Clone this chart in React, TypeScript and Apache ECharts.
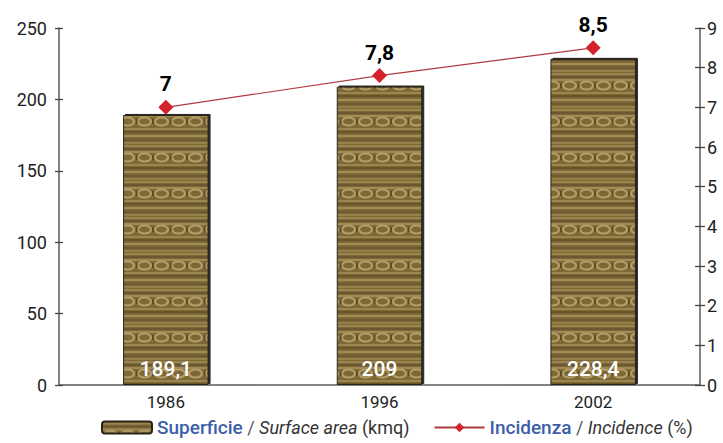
import React, { useEffect, useRef } from "react";
import * as echarts from "echarts";

const categories = ["1986", "1996", "2002"];
const surfaceArea = [189.1, 209, 228.4];
const incidence = [7, 7.8, 8.5];
const leftTicks = { min: 0, max: 250, interval: 50 };
const rightTicks = { min: 0, max: 9, interval: 1 };

const FONT = "Roboto, 'Liberation Sans', Arial, sans-serif";

function fmt(v: number) {
  return String(v).replace(".", ",");
}

function makePattern(): string {
  const W = 34, H = 36;
  const c = document.createElement("canvas");
  c.width = W;
  c.height = H;
  const g = c.getContext("2d")!;
  g.fillStyle = "#7d6838";
  g.fillRect(0, 0, W, H);
  // fine horizontal streaks
  const streaks: [number, string][] = [
    [1, "#9c8650"], [4, "#6a5830"], [7, "#a08a55"], [20, "#9a844f"], [23, "#665428"],
    [27, "#a48d57"], [31, "#6c5a31"], [34, "#97814c"],
  ];
  for (const [y, col] of streaks) {
    g.fillStyle = col;
    g.fillRect(0, y, W, 2);
  }
  // loops row
  g.strokeStyle = "#b59e66";
  g.lineWidth = 2.2;
  for (const cx of [8.5, 25.5]) {
    g.beginPath();
    g.ellipse(cx, 13.5, 6.5, 4, 0, 0, Math.PI * 2);
    g.stroke();
  }
  g.fillStyle = "#5e4c26";
  g.fillRect(16, 11, 2, 5);
  g.fillRect(0, 11, 1.5, 5);
  return c.toDataURL();
}

export default function App() {
  const ref = useRef<HTMLDivElement>(null);
  useEffect(() => {
    const chart = echarts.init(ref.current!, null, { renderer: "svg" });
    const pattern = makePattern();
    const axisLine = { show: true, lineStyle: { color: "#5a5a5a", width: 1.5 } };
    chart.setOption({
      animation: false,
      backgroundColor: "#ffffff",
      grid: { left: 59, right: 23, top: 28, bottom: 58 },
      legend: {
        bottom: 1,
        left: 96,
        itemWidth: 50,
        itemHeight: 12,
        itemGap: 24,
        data: ["Superficie", "Incidenza"],
        formatter: (name: string) =>
          name === "Superficie"
            ? "{a|Superficie} {b|/} {c|Surface area} {d|(kmq)}"
            : "{a|Incidenza} {b|/} {c|Incidence} {d|(%)}",
        textStyle: {
          fontFamily: FONT,
          fontSize: 18,
          rich: {
            a: { color: "#3d5ea8", fontFamily: FONT, fontSize: 19, fontWeight: 500 },
            b: { color: "#555", fontFamily: FONT, fontSize: 18 },
            c: { color: "#333", fontFamily: FONT, fontSize: 18, fontStyle: "italic" },
            d: { color: "#333", fontFamily: FONT, fontSize: 18 },
          },
        },
      },
      xAxis: {
        type: "category",
        data: categories,
        axisLine: { lineStyle: { color: "#5a5a5a", width: 1.5 } },
        axisTick: { show: false },
        axisLabel: { color: "#222", fontSize: 17, fontFamily: FONT, margin: 8 },
      },
      yAxis: [
        {
          type: "value",
          ...leftTicks,
          splitLine: { show: false },
          axisLine,
          axisTick: { show: true, length: 4, lineStyle: { color: "#444", width: 1.3 } },
          axisLabel: { color: "#222", fontSize: 18, fontFamily: FONT, margin: 12 },
        },
        {
          type: "value",
          ...rightTicks,
          position: "right",
          splitLine: { show: false },
          axisLine,
          axisTick: { show: true, length: 5, lineStyle: { color: "#444", width: 1.3 } },
          axisLabel: { color: "#222", fontSize: 18, fontFamily: FONT, margin: 7 },
        },
        {
          type: "value",
          ...leftTicks,
          position: "left",
          splitLine: { show: false },
          axisLine: { show: false },
          axisTick: { show: true, inside: true, length: 4, lineStyle: { color: "#444", width: 1.3 } },
          axisLabel: { show: false },
        },
        {
          type: "value",
          ...rightTicks,
          position: "right",
          splitLine: { show: false },
          axisLine: { show: false },
          axisTick: { show: true, inside: true, length: 5, lineStyle: { color: "#444", width: 1.3 } },
          axisLabel: { show: false },
        },
      ],
      series: [
        {
          name: "Superficie",
          type: "bar",
          data: surfaceArea,
          barWidth: "40%",
          itemStyle: {
            color: { image: pattern, repeat: "repeat" },
            borderColor: "#2a2418",
            borderWidth: 1,
            shadowColor: "rgba(10,10,10,0.9)",
            shadowOffsetX: 2,
            shadowOffsetY: -1,
            shadowBlur: 1,
          },
          label: {
            show: true,
            position: "insideBottom",
            distance: 6,
            color: "#fff",
            fontSize: 21,
            fontWeight: 500,
            fontFamily: FONT,
            formatter: (p: any) => fmt(p.value),
          },
        },
        {
          name: "Incidenza",
          type: "line",
          yAxisIndex: 1,
          data: incidence,
          symbol: "diamond",
          symbolSize: 15,
          lineStyle: { color: "#b03a3e", width: 1.2 },
          itemStyle: { color: "#d3222b" },
          label: {
            show: true,
            position: "top",
            distance: 5,
            color: "#000",
            fontSize: 21,
            fontWeight: "bold",
            fontFamily: FONT,
            formatter: (p: any) => fmt(p.value),
          },
        },
      ],
    });
    return () => chart.dispose();
  }, []);
  return <div ref={ref} style={{ width: 723, height: 443, position: "absolute", left: 0, top: 0 }} />;
}
